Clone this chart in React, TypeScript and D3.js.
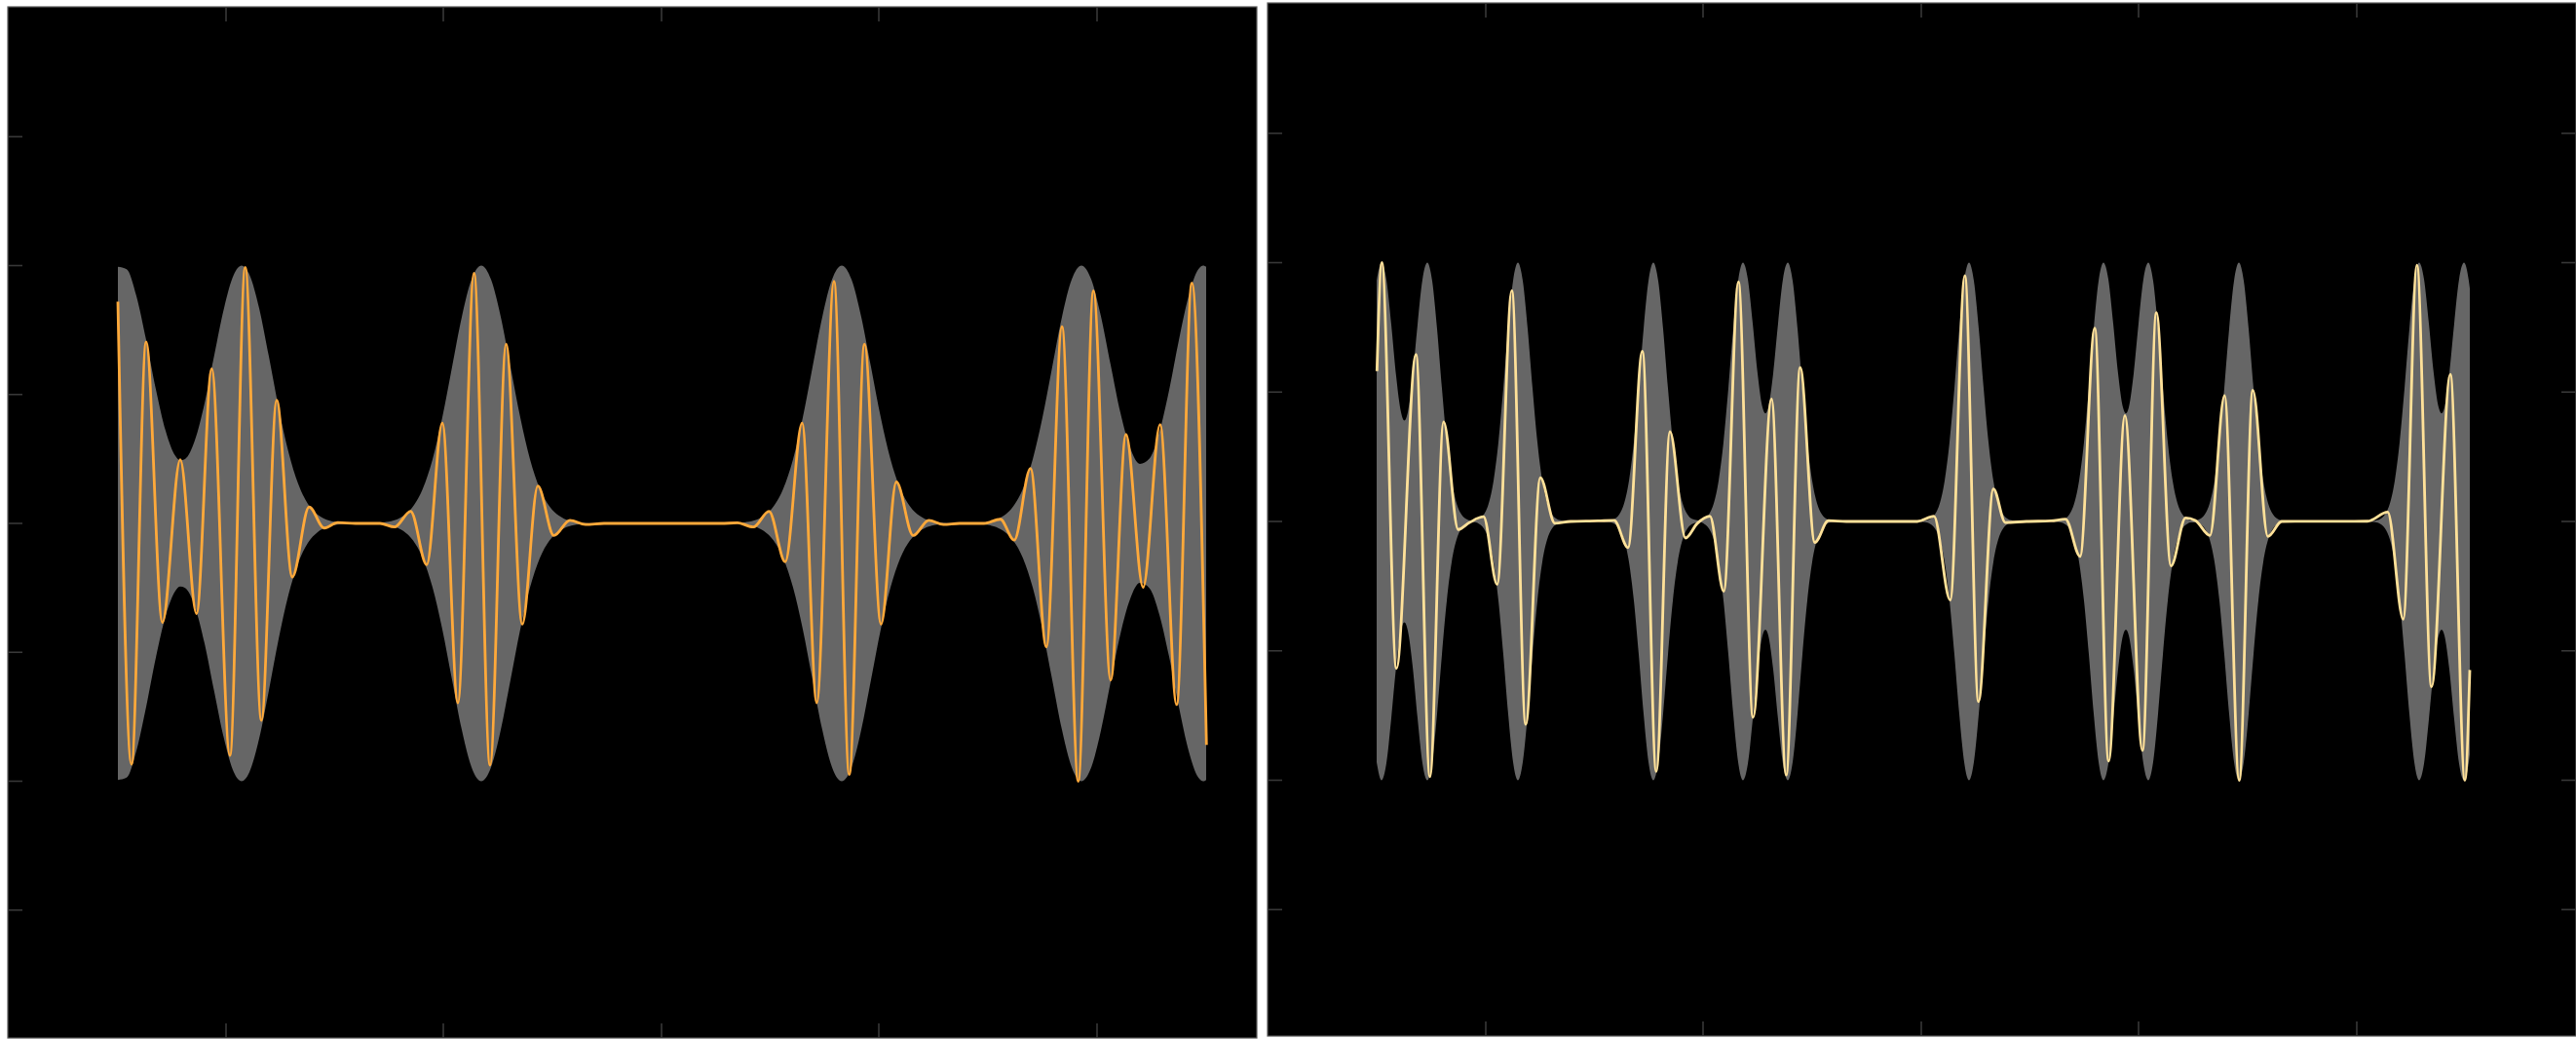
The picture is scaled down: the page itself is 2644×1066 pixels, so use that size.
import React from "react";
import * as d3 from "d3";

// ---- Data (x in samples from the panel's left edge, y = amplitude) ----
const leftEnvelope: [number, number][] = [
  [113, 0.995], [122, 0.986], [132, 0.882], [142, 0.712], [152, 0.52], [162, 0.359], [172, 0.262], [177, 0.245], [182, 0.25], [192, 0.322], [202, 0.466], [212, 0.654], [222, 0.836], [232, 0.965], [240, 1], [248, 0.965], [258, 0.835], [268, 0.647], [278, 0.448], [288, 0.278], [298, 0.154], [308, 0.076], [318, 0.034], [328, 0.0135], [338, 0.005], [352, 0.001], [372, 0],
  [376, 0.001], [386, 0.004], [396, 0.011], [406, 0.029], [416, 0.066], [426, 0.135], [436, 0.249], [446, 0.411], [456, 0.607], [466, 0.801], [476, 0.946], [486, 1], [496, 0.946], [506, 0.801], [516, 0.607], [526, 0.411], [536, 0.249], [546, 0.135], [556, 0.066], [566, 0.029], [576, 0.011], [586, 0.004], [596, 0.001], [612, 0],
  [732, 0], [746, 0.001], [756, 0.004], [766, 0.011], [776, 0.029], [786, 0.066], [796, 0.135], [806, 0.249], [816, 0.411], [826, 0.607], [836, 0.801], [846, 0.946], [856, 1], [866, 0.946], [876, 0.801], [886, 0.607], [896, 0.411], [906, 0.249], [916, 0.135], [926, 0.066], [936, 0.029], [946, 0.011], [956, 0.004], [966, 0.001], [982, 0],
  [992, 0.001], [1002, 0.004], [1012, 0.011], [1022, 0.029], [1032, 0.066], [1042, 0.135], [1052, 0.249], [1062, 0.411], [1072, 0.607], [1082, 0.801], [1092, 0.946], [1102, 1], [1112, 0.947], [1122, 0.803], [1132, 0.614], [1142, 0.429], [1152, 0.293], [1162, 0.231], [1172, 0.252], [1182, 0.354], [1192, 0.517], [1202, 0.711], [1212, 0.882], [1222, 0.986], [1227, 1], [1230, 0.995],
];

const leftSignal: [number, number][] = [
  [113, 0.86], [127, -0.934], [142, 0.704], [158.7, -0.384], [177, 0.247], [193.7, -0.35], [209.3, 0.6], [228, -0.9], [243.7, 0.993], [260.3, -0.764], [276, 0.478], [292, -0.208], [309.3, 0.064], [324.7, -0.018], [338.7, 0.003], [357, 0],
  [382, 0], [397, -0.014], [413.5, 0.047], [430, -0.16], [446, 0.389], [462, -0.696], [478.5, 0.97], [495, -0.938], [511.5, 0.695], [528, -0.391], [544, 0.145], [560.5, -0.047], [577, 0.012], [593, -0.004], [612, 0],
  [732, 0], [749, 0.002], [765.3, -0.014], [781.3, 0.047], [798, -0.149], [815.3, 0.389], [830.3, -0.696], [848, 0.939], [863.7, -0.974], [879.3, 0.695], [896.3, -0.391], [912, 0.161], [929.3, -0.047], [945.3, 0.012], [960.3, -0.004], [977, 0],
  [1002, 0], [1018.7, 0.016], [1033, -0.065], [1049.7, 0.213], [1066, -0.479], [1082, 0.763], [1098.7, -1.0], [1114.3, 0.902], [1132, -0.608], [1147.7, 0.345], [1165.3, -0.248], [1182.7, 0.383], [1199.7, -0.703], [1215.3, 0.932], [1230.3, -0.859],
];

const rightEnvelope: [number, number][] = [
  [112, 0.93], [117, 1.0], [122, 0.934], [127, 0.761], [132, 0.562], [137, 0.422], [140.5, 0.39], [144, 0.422], [149, 0.562], [154, 0.761], [159, 0.934], [164, 1], [169, 0.929], [174, 0.744], [179, 0.514], [184, 0.306], [189, 0.157], [194, 0.07], [199, 0.027], [204, 0.009], [209, 0.003], [213, 0.003], [217, 0.009], [222, 0.027], [227, 0.07], [232, 0.157], [237, 0.306], [242, 0.514], [247, 0.744], [252, 0.929], [257, 1], [262, 0.929], [267, 0.744], [272, 0.514], [277, 0.306], [282, 0.157], [287, 0.07], [292, 0.027], [297, 0.009], [302, 0.003], [307, 0.001], [314, 0],
  [339, 0], [346, 0.001], [351, 0.003], [356, 0.009], [361, 0.027], [366, 0.07], [371, 0.157], [376, 0.306], [381, 0.514], [386, 0.744], [391, 0.929], [396, 1], [401, 0.929], [406, 0.744], [411, 0.514], [416, 0.306], [421, 0.157], [426, 0.07], [431, 0.027], [436, 0.009], [441, 0.005], [445, 0.004], [448, 0.009], [453, 0.027], [458, 0.07], [463, 0.157], [468, 0.306], [473, 0.514], [478, 0.744], [483, 0.929], [488, 1], [493, 0.936], [498, 0.765], [503, 0.572], [508, 0.441], [511, 0.418], [514, 0.441], [519, 0.572], [524, 0.765], [529, 0.936], [534, 1], [539, 0.929], [544, 0.744], [549, 0.514], [554, 0.306], [559, 0.157], [564, 0.07], [569, 0.027], [574, 0.009], [579, 0.003], [584, 0.001], [591, 0],
  [663, 0], [670, 0.001], [675, 0.003], [680, 0.009], [685, 0.027], [690, 0.07], [695, 0.157], [700, 0.306], [705, 0.514], [710, 0.744], [715, 0.929], [720, 1], [725, 0.929], [730, 0.744], [735, 0.514], [740, 0.306], [745, 0.157], [750, 0.07], [755, 0.027], [760, 0.009], [765, 0.003], [770, 0.001], [777, 0],
  [801, 0], [808, 0.001], [813, 0.003], [818, 0.009], [823, 0.027], [828, 0.07], [833, 0.157], [838, 0.306], [843, 0.514], [848, 0.744], [853, 0.929], [858, 1], [863, 0.936], [868, 0.765], [873, 0.572], [878, 0.441], [881, 0.418], [884, 0.441], [889, 0.572], [894, 0.765], [899, 0.936], [904, 1], [909, 0.929], [914, 0.744], [919, 0.514], [924, 0.306], [929, 0.157], [934, 0.07], [939, 0.027], [944, 0.009], [948, 0.004], [952, 0.004], [957, 0.009], [962, 0.027], [967, 0.07], [972, 0.157], [977, 0.306], [982, 0.514], [987, 0.744], [992, 0.929], [997, 1], [1002, 0.929], [1007, 0.744], [1012, 0.514], [1017, 0.306], [1022, 0.157], [1027, 0.07], [1032, 0.027], [1037, 0.009], [1042, 0.003], [1047, 0.001], [1054, 0],
  [1125, 0], [1132, 0.001], [1137, 0.003], [1142, 0.009], [1147, 0.027], [1152, 0.07], [1157, 0.157], [1162, 0.306], [1167, 0.514], [1172, 0.744], [1177, 0.929], [1182, 1], [1187, 0.936], [1192, 0.765], [1197, 0.572], [1202, 0.441], [1205, 0.418], [1208, 0.441], [1213, 0.572], [1218, 0.765], [1223, 0.936], [1228, 1], [1233, 0.929], [1234, 0.9],
];

const rightSignal: [number, number][] = [
  [112.3, 0.581], [117.3, 1.0], [132.3, -0.568], [152.3, 0.645], [166.7, -0.986], [180.7, 0.385], [195.7, -0.031], [207, -0.005], [221.7, 0.018], [235.7, -0.243], [250.7, 0.892], [265, -0.784], [280, 0.169], [295, -0.007], [311, 0],
  [339, 0.002], [355.7, 0.004], [370, -0.101], [384.7, 0.658], [399, -0.966], [413, 0.347], [429, -0.064], [441, -0.008], [454, 0.02], [468.3, -0.27], [483.3, 0.926], [498.3, -0.757], [517.3, 0.473], [532.3, -0.98], [546.7, 0.595], [561.7, -0.081], [575.7, 0.003], [594, 0],
  [667, 0], [684, 0.02], [700.7, -0.304], [715.7, 0.95], [729.7, -0.696], [745, 0.126], [757.3, -0.004], [779, 0],
  [804, 0.002], [819, 0.009], [834, -0.135], [849, 0.747], [863.3, -0.926], [880, 0.409], [898, -0.885], [912.3, 0.807], [927.3, -0.172], [942.3, 0.014], [952.3, 0.004], [967.3, -0.054], [982.3, 0.486], [997.3, -1.0], [1011.3, 0.507], [1026.7, -0.058], [1041, 0],
  [1129, 0.001], [1149.7, 0.036], [1165.7, -0.378], [1179.7, 0.99], [1194.7, -0.639], [1214, 0.568], [1229, -1.0], [1234, -0.574],
];

const xTicks = [224, 447, 671, 894, 1118];
const yTicks = [-1.5, -1, -0.5, 0, 0.5, 1, 1.5];

type PanelProps = {
  left: number;
  right: number;
  top: number;
  bottom: number;
  xMax: number;
  yRange: [number, number];
  envelope: [number, number][];
  signal: [number, number][];
  color: string;
  rightTicks: boolean;
};

function Panel(p: PanelProps) {
  const x = d3.scaleLinear().domain([0, p.xMax]).range([p.left, p.right]);
  const y = d3.scaleLinear().domain([-2, 2]).range(p.yRange);
  const area = d3
    .area<[number, number]>()
    .x((d) => x(d[0]))
    .y0((d) => y(-d[1]))
    .y1((d) => y(d[1]))
    .curve(d3.curveMonotoneX);
  const line = d3
    .line<[number, number]>()
    .x((d) => x(d[0]))
    .y((d) => y(d[1]))
    .curve(d3.curveMonotoneX);
  const tl = 15;
  const tickColor = "#383838";
  return (
    <g>
      <rect
        x={p.left}
        y={p.top}
        width={p.right - p.left}
        height={p.bottom - p.top}
        fill="#000"
        stroke="#5c5c5c"
        strokeWidth={1.2}
      />
      {xTicks.map((t) => (
        <g key={"x" + t}>
          <line x1={x(t)} x2={x(t)} y1={p.top} y2={p.top + tl} stroke={tickColor} strokeWidth={1.6} />
          <line x1={x(t)} x2={x(t)} y1={p.bottom} y2={p.bottom - tl} stroke={tickColor} strokeWidth={1.6} />
        </g>
      ))}
      {yTicks.map((t) => (
        <g key={"y" + t}>
          <line x1={p.left} x2={p.left + tl} y1={y(t)} y2={y(t)} stroke={tickColor} strokeWidth={1.6} />
          {p.rightTicks && (
            <line x1={p.right} x2={p.right - tl} y1={y(t)} y2={y(t)} stroke={tickColor} strokeWidth={1.6} />
          )}
        </g>
      ))}
      <path d={area(p.envelope) || ""} fill="#666666" />
      <path
        d={line(p.signal) || ""}
        fill="none"
        stroke={p.color}
        strokeWidth={2.8}
        strokeLinejoin="round"
        strokeLinecap="butt"
      />
    </g>
  );
}

export default function App() {
  return (
    <svg
      width={2644}
      height={1066}
      style={{ position: "absolute", left: 0, top: 0, display: "block", background: "#fff" }}
    >
      <rect x={0} y={0} width={2644} height={1066} fill="#fff" />
      <Panel
        left={8}
        right={1290}
        top={7}
        bottom={1065}
        xMax={1282}
        yRange={[1066, 8]}
        envelope={leftEnvelope}
        signal={leftSignal}
        color="#FFA93A"
        rightTicks={false}
      />
      <Panel
        left={1301}
        right={2644}
        top={3}
        bottom={1063}
        xMax={1343}
        yRange={[1066, 4]}
        envelope={rightEnvelope}
        signal={rightSignal}
        color="#FFE199"
        rightTicks={true}
      />
    </svg>
  );
}
